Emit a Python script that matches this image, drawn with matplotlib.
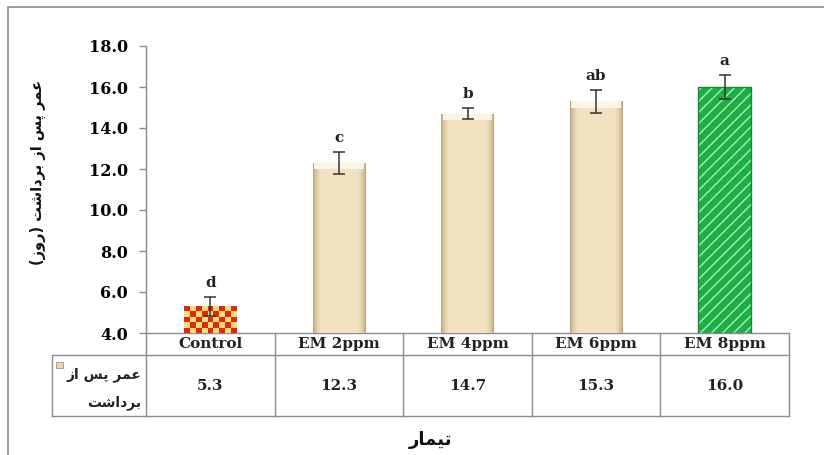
import matplotlib
matplotlib.use("Agg")
import matplotlib.pyplot as plt
import numpy as np
from matplotlib.patches import Rectangle
from matplotlib.lines import Line2D

categories = ["Control", "EM 2ppm", "EM 4ppm", "EM 6ppm", "EM 8ppm"]
values = [5.3, 12.3, 14.7, 15.3, 16.0]
errors = [0.45, 0.55, 0.27, 0.57, 0.58]
letters = ["d", "c", "b", "ab", "a"]
table_values = ["5.3", "12.3", "14.7", "15.3", "16.0"]
yticks = [4.0, 6.0, 8.0, 10.0, 12.0, 14.0, 16.0, 18.0]
ylabel_fa = "عمر پس از برداشت (روز)"
xlabel_fa = "تیمار"
series_fa_1 = "عمر پس از"
series_fa_2 = "برداشت"

# --- minimal Arabic/Persian shaping (presentation forms, visual order) ---
DUAL = {
    "ع": (0xFEC9, 0xFECA, 0xFECB, 0xFECC),
    "م": (0xFEE1, 0xFEE2, 0xFEE3, 0xFEE4),
    "پ": (0xFB56, 0xFB57, 0xFB58, 0xFB59),
    "س": (0xFEB1, 0xFEB2, 0xFEB3, 0xFEB4),
    "ب": (0xFE8F, 0xFE90, 0xFE91, 0xFE92),
    "ش": (0xFEB5, 0xFEB6, 0xFEB7, 0xFEB8),
    "ت": (0xFE95, 0xFE96, 0xFE97, 0xFE98),
    "ی": (0xFBFC, 0xFBFD, 0xFBFE, 0xFBFF),
}
RIGHT = {
    "ا": (0xFE8D, 0xFE8E),
    "ر": (0xFEAD, 0xFEAE),
    "ز": (0xFEAF, 0xFEB0),
    "د": (0xFEA9, 0xFEAA),
    "و": (0xFEED, 0xFEEE),
}


def shape(s):
    out = []
    n = len(s)
    for i, ch in enumerate(s):
        prev = s[i - 1] if i > 0 else ""
        nxt = s[i + 1] if i < n - 1 else ""
        jp = prev in DUAL
        jn = ch in DUAL and (nxt in DUAL or nxt in RIGHT)
        if ch in DUAL:
            f = DUAL[ch]
            if jp and jn:
                c = f[3]
            elif jp:
                c = f[1]
            elif jn:
                c = f[2]
            else:
                c = f[0]
            out.append(chr(c))
        elif ch in RIGHT:
            f = RIGHT[ch]
            out.append(chr(f[1] if jp else f[0]))
        else:
            out.append(ch)
    vis = "".join(reversed(out))
    return vis.translate(str.maketrans({"(": ")", ")": "("}))


W, H = 824, 455
fig = plt.figure(figsize=(W / 100, H / 100), dpi=100)
fig.patch.set_facecolor("white")

# outer frame
fig.add_artist(Rectangle((8 / W, -0.02), 1.1, 1 - 7 / H + 0.02, transform=fig.transFigure,
                         fill=False, edgecolor="#8c8c8c", linewidth=1.2))

ax = fig.add_axes([146 / W, 1 - 333 / H, (789 - 146) / W, (333 - 46) / H])
x = np.arange(len(categories))
ax.set_xlim(-0.5, len(categories) - 0.5)
ax.set_ylim(4.0, 18.0)
bw = 0.41

serif = "DejaVu Serif"
tan_light = np.array([0.95, 0.89, 0.76])
tan_dark = np.array([0.72, 0.62, 0.45])

bars = ax.bar(x, [v - 4.0 for v in values], bottom=4.0, width=bw, color="#efdfbd",
              edgecolor="none", zorder=2)

for i, b in enumerate(bars):
    x0, y0 = b.get_x(), b.get_y()
    w, h = b.get_width(), b.get_height()
    if i == 0:
        # red/yellow checkerboard
        ncol = 9
        px_w = w / (ax.get_xlim()[1] - ax.get_xlim()[0]) * (789 - 146)
        px_h = h / 14.0 * 287
        nrow = max(1, int(round(px_h / (px_w / ncol))))
        chk = (np.indices((nrow, ncol)).sum(axis=0) % 2)
        img = np.zeros((nrow, ncol, 3))
        img[chk == 0] = [0.86, 0.16, 0.10]
        img[chk == 1] = [0.98, 0.86, 0.45]
        im = ax.imshow(img, extent=(x0, x0 + w, y0, y0 + h), aspect="auto",
                       interpolation="nearest", zorder=2.1, origin="upper")
        im.set_clip_path(b)
    elif i == len(bars) - 1:
        b.set_facecolor("#1fae45")
        ax.bar(x0 + w / 2, h, bottom=y0, width=w, facecolor="none", edgecolor="#a8f0b4",
               hatch="///", linewidth=0, zorder=2.2)
        ax.bar(x0 + w / 2, h, bottom=y0, width=w, facecolor="none", edgecolor="#148a35",
               linewidth=1.0, zorder=2.3)
    else:
        t = np.linspace(0, 1, 64)
        prof = np.clip(np.sin(np.pi * t) * 2.2, 0, 1) ** 0.5
        row = tan_dark[None, :] + (tan_light - tan_dark)[None, :] * prof[:, None]
        img = np.repeat(row[None, :, :], 2, axis=0)
        im = ax.imshow(img, extent=(x0, x0 + w, y0, y0 + h), aspect="auto",
                       interpolation="bilinear", zorder=2.1)
        im.set_clip_path(b)
        # light top cap
        ax.bar(x0 + w / 2, 0.3, bottom=y0 + h - 0.3, width=w * 0.94, color="#fcf8ee",
               edgecolor="none", zorder=2.2, alpha=0.9)

ax.set_aspect("auto")
ax.errorbar(x, values, yerr=errors, fmt="none", ecolor="#333333", elinewidth=1.1,
            capsize=4, capthick=1.1, zorder=3)

for xi, v, e, lab in zip(x, values, errors, letters):
    ax.annotate(lab, (xi, v + e), xytext=(0, 5), textcoords="offset points",
                ha="center", va="bottom", fontsize=11, fontweight="bold", family=serif,
                color="#222222")

ax.set_yticks(yticks)
ax.set_yticklabels([f"{t:.1f}" for t in yticks], fontsize=11.5, fontweight="bold", family=serif)
ax.tick_params(axis="y", direction="out", length=5, width=1, color="#8c8c8c", pad=8)
ax.set_xticks([])
for s in ["top", "right", "bottom"]:
    ax.spines[s].set_visible(False)
ax.spines["left"].set_color("#8c8c8c")
ax.spines["left"].set_linewidth(1)

# data table below axes
tr = ax.get_xaxis_transform()
row1 = -(355 - 333) / 287
row2 = -(416 - 333) / 287
left_legend = -0.5 - (146 - 52) / (789 - 146) * 5
lc = "#8c8c8c"
ax.add_line(Line2D([-0.5, 4.5], [0, 0], transform=tr, color=lc, lw=1, clip_on=False))
ax.add_line(Line2D([left_legend, 4.5], [row1, row1], transform=tr, color=lc, lw=1, clip_on=False))
ax.add_line(Line2D([left_legend, 4.5], [row2, row2], transform=tr, color=lc, lw=1, clip_on=False))
for b in np.arange(-0.5, len(categories), 1.0):
    ax.add_line(Line2D([b, b], [0, row2], transform=tr, color=lc, lw=1, clip_on=False))
ax.add_line(Line2D([left_legend, left_legend], [row1, row2], transform=tr, color=lc, lw=1,
                   clip_on=False))

for xi, c, tv in zip(x, categories, table_values):
    ax.text(xi, row1 / 2, c, transform=tr, ha="center", va="center", fontsize=11,
            fontweight="bold", family=serif, color="#222222")
    ax.text(xi, (row1 + row2) / 2, tv, transform=tr, ha="center", va="center", fontsize=11,
            fontweight="bold", family=serif, color="#222222")

# legend key and series name
fig.add_artist(Rectangle((56 / W, 1 - 368 / H), 7 / W, 6 / H, transform=fig.transFigure,
                         facecolor="#e8d6b0", edgecolor="#a8967a", linewidth=0.6))
fig.text(141 / W, 1 - 375 / H, shape(series_fa_1), ha="right", va="center", fontsize=10,
         fontweight="bold", family="DejaVu Sans", color="#222222")
fig.text(141 / W, 1 - 403 / H, shape(series_fa_2), ha="right", va="center", fontsize=10,
         fontweight="bold", family="DejaVu Sans", color="#222222")

# axis titles
fig.text(38 / W, 1 - 172 / H, shape(ylabel_fa), rotation=90, ha="center", va="center",
         fontsize=10.5, fontweight="bold", family="DejaVu Sans", color="#111111")
fig.text(430 / W, 1 - 440 / H, shape(xlabel_fa), ha="center", va="center",
         fontsize=13, fontweight="bold", family="DejaVu Sans", color="#111111")

fig.savefig("out.png", dpi=100, facecolor="white")
